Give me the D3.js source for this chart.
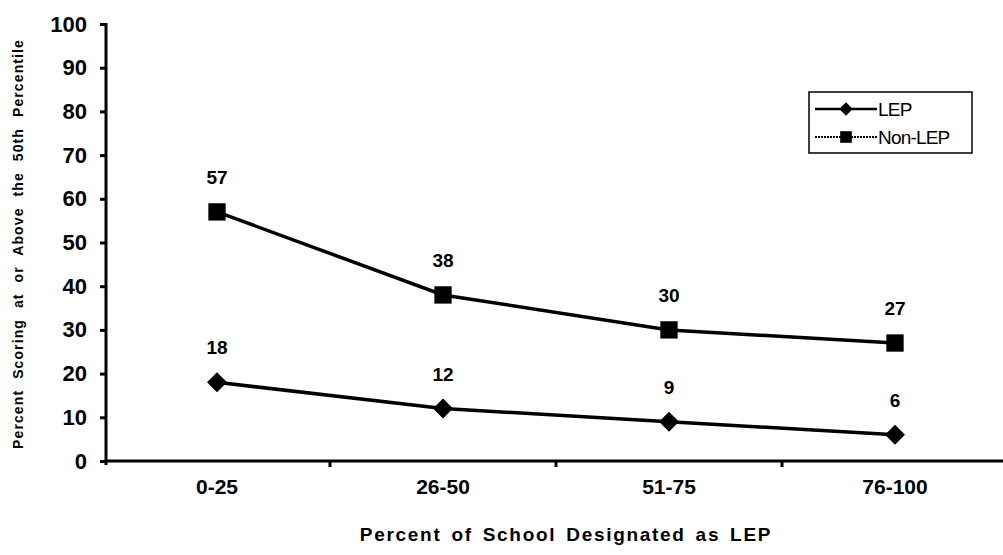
<!DOCTYPE html>
<html>
<head>
<meta charset="utf-8">
<script src="https://cdn.jsdelivr.net/npm/d3@7"></script>
<style>
  body { margin: 0; background: #fff; }
  text { font-family: "Liberation Sans", Arial, sans-serif; fill: #000; }
</style>
</head>
<body>
<div id="chart"></div>
<script>
var width = 1003,
    height = 555;

var categories = ["0-25", "26-50", "51-75", "76-100"];
var lepValues = [18, 12, 9, 6];
var nonLepValues = [57, 38, 30, 27];
var yTicks = [0, 10, 20, 30, 40, 50, 60, 70, 80, 90, 100];

// diamond = square turned 45 degrees
var series = [
  { name: "LEP", values: lepValues, size: 200, rotate: 45 },
  { name: "Non-LEP", values: nonLepValues, size: 300, rotate: 0 }
];

var svg = d3.select("#chart")
  .append("svg")
  .attr("width", width)
  .attr("height", height);

var x = d3.scaleBand()
  .domain(categories)
  .range([104, 1008]);

var y = d3.scaleLinear()
  .domain([0, 100])
  .range([461, 24]);

function cx(i) { return x(categories[i]) + x.bandwidth() / 2; }

// y axis
var yAxis = svg.append("g")
  .attr("transform", "translate(106,0)")
  .call(d3.axisLeft(y).tickValues(yTicks).tickSize(6).tickSizeOuter(0));
yAxis.select(".domain").attr("stroke-width", 3).attr("d", "M0," + (y(0) + 4) + "V" + (y(100) - 1));
yAxis.selectAll(".tick line").attr("stroke-width", 3);
yAxis.selectAll(".tick text")
  .attr("x", -19)
  .style("font-size", "22px")
  .style("font-weight", "bold");

// x axis
var xAxis = svg.append("g")
  .attr("transform", "translate(0," + y(0) + ")")
  .call(d3.axisBottom(x).tickSize(0).tickSizeOuter(0));
xAxis.select(".domain").attr("stroke-width", 3).attr("d", "M106,0H1003");
xAxis.selectAll(".tick text")
  .attr("y", 18)
  .style("font-size", "21px")
  .style("font-weight", "bold");

// band boundary ticks below the x axis
svg.append("g")
  .selectAll("line")
  .data(categories.slice(1))
  .enter().append("line")
    .attr("x1", function(d) { return x(d); })
    .attr("x2", function(d) { return x(d); })
    .attr("y1", y(0))
    .attr("y2", y(0) + 6)
    .attr("stroke", "#000")
    .attr("stroke-width", 3);

// titles
svg.append("text")
  .attr("x", 566)
  .attr("y", 541)
  .attr("text-anchor", "middle")
  .style("font-size", "19px")
  .style("font-weight", "bold")
  .style("letter-spacing", "1.7px")
  .style("word-spacing", "3px")
  .text("Percent of School Designated as LEP");

svg.append("text")
  .attr("transform", "translate(23,244) rotate(-90)")
  .attr("text-anchor", "middle")
  .style("font-size", "14px")
  .style("font-weight", "bold")
  .style("letter-spacing", "1.1px")
  .style("word-spacing", "6px")
  .text("Percent Scoring at or Above the 50th Percentile");

// lines, markers, labels
var line = d3.line()
  .x(function(d, i) { return cx(i); })
  .y(function(d) { return y(d); });

series.forEach(function(s) {
  svg.append("path")
    .attr("d", line(s.values))
    .attr("fill", "none")
    .attr("stroke", "#000")
    .attr("stroke-width", 3.5);

  svg.append("g")
    .selectAll("path")
    .data(s.values)
    .enter().append("path")
      .attr("transform", function(d, i) {
        return "translate(" + cx(i) + "," + y(d) + ") rotate(" + s.rotate + ")";
      })
      .attr("d", d3.symbol().type(d3.symbolSquare).size(s.size))
      .attr("fill", "#000");

  svg.append("g")
    .selectAll("text")
    .data(s.values)
    .enter().append("text")
      .attr("x", function(d, i) { return cx(i); })
      .attr("y", function(d) { return y(d) - 28; })
      .attr("text-anchor", "middle")
      .style("font-size", "19px")
      .style("font-weight", "bold")
      .text(function(d) { return d; });
});

// legend
var legend = svg.append("g");
legend.append("rect")
  .attr("x", 809)
  .attr("y", 92)
  .attr("width", 163)
  .attr("height", 61)
  .attr("fill", "#fff")
  .attr("stroke", "#000")
  .attr("stroke-width", 1.5);

var legendRows = legend.selectAll("g")
  .data(series)
  .enter().append("g")
    .attr("transform", function(d, i) { return "translate(0," + (109 + i * 28) + ")"; });

legendRows.append("line")
  .attr("x1", 815)
  .attr("x2", 877)
  .attr("stroke", "#000")
  .attr("stroke-width", function(d, i) { return i === 0 ? 2.5 : 2; })
  .attr("stroke-dasharray", function(d, i) { return i === 0 ? null : "2,1"; });

legendRows.append("path")
  .attr("transform", function(d) { return "translate(846,0) rotate(" + d.rotate + ")"; })
  .attr("d", function(d) { return d3.symbol().type(d3.symbolSquare).size(d.size * 0.45)(); })
  .attr("fill", "#000");

legendRows.append("text")
  .attr("x", 878)
  .attr("y", 7)
  .style("font-size", "19px")
  .style("letter-spacing", "-0.8px")
  .text(function(d) { return d.name; });
</script>
</body>
</html>
